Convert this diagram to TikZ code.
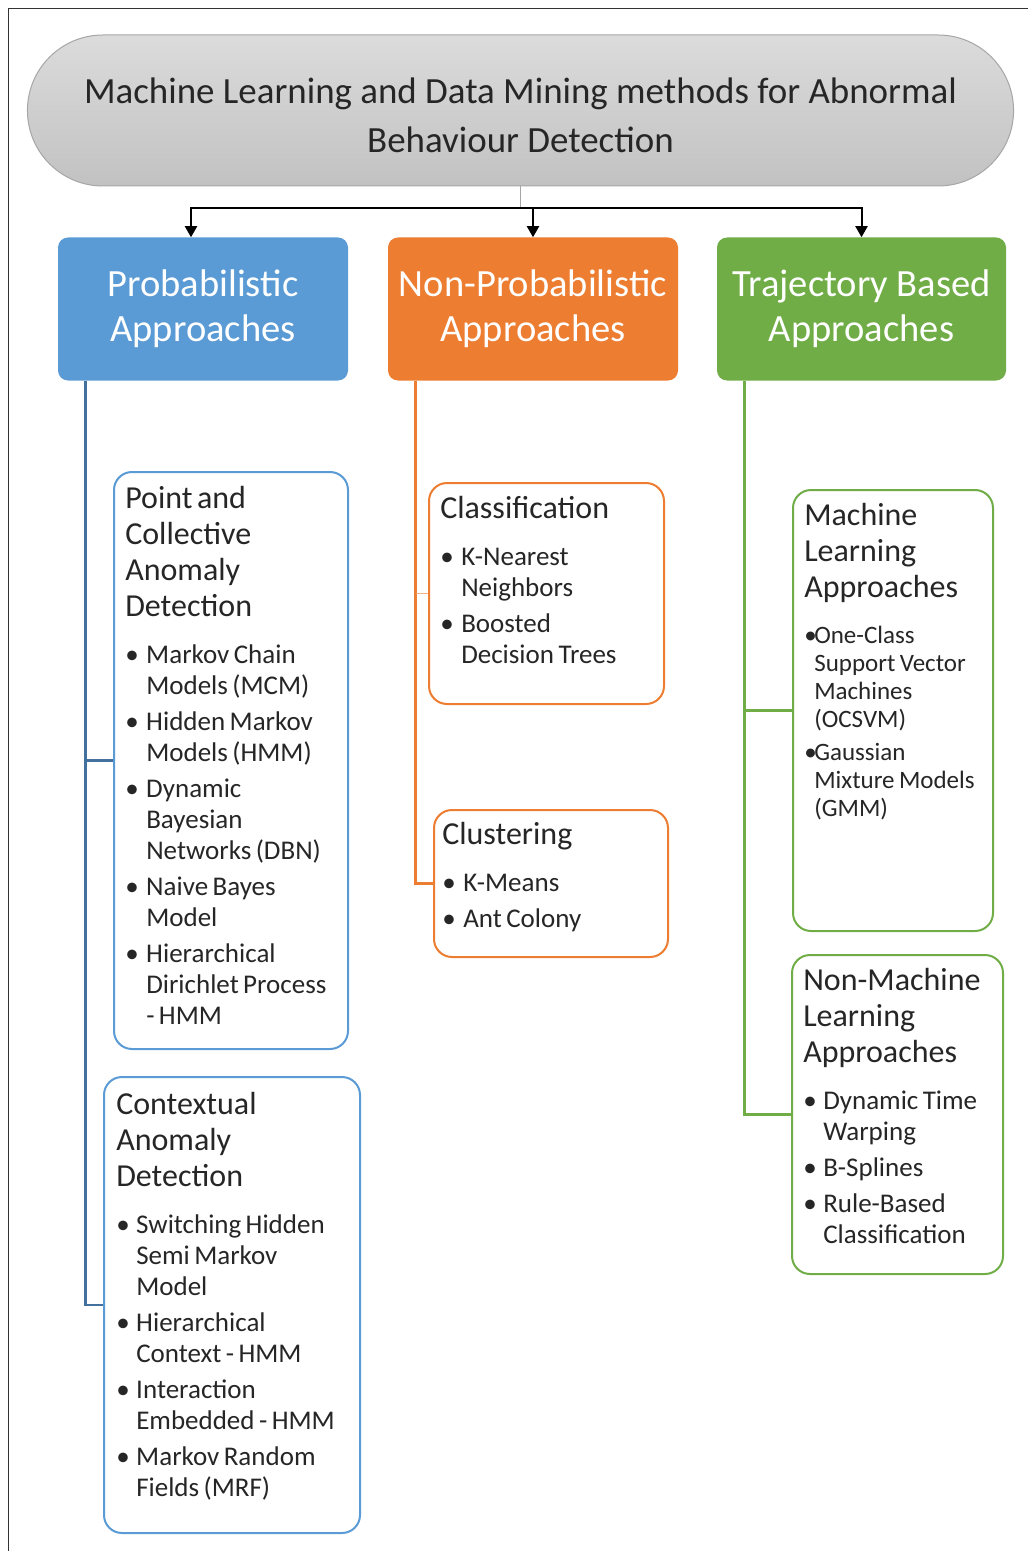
\documentclass[tikz,border=0pt]{standalone}
\usepackage{fontspec}
\setmainfont{Carlito}
\usetikzlibrary{arrows.meta,calc,positioning,shapes.misc}
\definecolor{ink}{RGB}{38,38,38}
\definecolor{probblue}{RGB}{91,155,213}
\definecolor{probline}{RGB}{65,113,156}
\definecolor{nonorange}{RGB}{237,125,49}
\definecolor{trajgreen}{RGB}{112,173,71}
\newdimen\px \px=0.75pt
\newcommand\hdfont{\fontsize{24}{27}\selectfont}
\newcommand\itfont{\fontsize{20.25}{23.25}\selectfont}
\newcommand\smfont{\fontsize{18.75}{21}\selectfont}
\newcommand\itm[2][15.75pt]{\par\hangindent=#1\hangafter=1\noindent\hbox to #1{\textbullet\hfil}#2}

\begin{document}
\begin{tikzpicture}[x=0.75pt,y=-0.75pt,
  title/.style={rounded rectangle,draw=gray!70,line width=1\px,top color=gray!28,bottom color=gray!48,
    minimum width=995\px,minimum height=151\px,align=center,text=ink,font=\fontsize{27.7}{36.75}\selectfont},
  hdr/.style={rounded corners=10\px,minimum width=290\px,minimum height=143\px,inner sep=2\px,
    text=white,align=center,font=\fontsize{28.9}{33.75}\selectfont},
  sub/.style={draw=#1,line width=2\px,rounded corners=18\px,fill=white},
  body/.style={anchor=base west,inner sep=0pt,text=ink,execute at begin node=\setlength\parindent{0pt}},
  bus/.style={line width=2\px,-{Triangle[width=9pt,length=8.25pt]}},
  trunk/.style={line width=2.5\px}]
  \useasboundingbox (0,0) rectangle (1028,1551);
  \draw[line width=1\px,black!80] (8,1551) -- (8,9) -- (1028,9);

  \node[title] (ttl) at (520.5,110.5) {\rule{0pt}{26pt}Machine Learning and Data Mining methods for Abnormal\\Behaviour Detection};

  \node[hdr,fill=probblue] (pa) at (203,309) {Probabilistic\\Approaches};
  \node[hdr,fill=nonorange] (na) at (533,309) {Non-Probabilistic\\Approaches};
  \node[hdr,fill=trajgreen,minimum width=289\px] (ta) at (861.5,309) {Trajectory Based\\Approaches};

  \draw[gray!70,line width=1\px] (ttl.south) -- ++(0,22) coordinate (hub);
  \draw[bus] (hub) -| ($(pa.north)+(-12,0)$);
  \draw[bus] (hub) -| (na.north);
  \draw[bus] (hub) -| (ta.north);

  \node[sub=probblue,minimum width=234\px,minimum height=577\px] (pc) at (231,760.5) {};
  \node[sub=probblue,minimum width=256\px,minimum height=456\px] (cx) at (232,1305) {};
  \node[sub=nonorange,minimum width=235\px,minimum height=221\px] (cl) at (546.5,593.5) {};
  \node[sub=nonorange,minimum width=234\px,minimum height=147\px] (cu) at (551,883.5) {};
  \node[sub=trajgreen,minimum width=200\px,minimum height=441\px] (ml) at (893,710.5) {};
  \node[sub=trajgreen,minimum width=211\px,minimum height=319\px] (nm) at (897.5,1114.5) {};

  \coordinate (pt) at ($(pa.south west)+(28,0)$);
  \coordinate (nt) at ($(na.south west)+(28,0)$);
  \coordinate (tt) at ($(ta.south west)+(28,0)$);
  \draw[trunk,probline] (pt) |- (cx.west);
  \draw[trunk,probline] (pt |- pc.west) -- (pc.west);
  \draw[trunk,nonorange] (nt) |- (cu.west);
  \draw[line width=1\px,nonorange!60] (nt |- cl.west) -- (cl.west);
  \draw[trunk,trajgreen,line width=3\px] (tt) |- (nm.west);
  \draw[trajgreen,line width=3\px] (tt |- ml.west) -- (ml.west);

  \node[body,text width=222\px] (pctxt) at ($(pc.north west)+(12,37)$) {%
    {\hdfont Point and\newline Collective\newline Anomaly\newline Detection\par}
    \itfont\parskip=3.75pt\vspace{8.25pt}
    \itm{Markov Chain\newline Models (MCM)}
    \itm{Hidden Markov\newline Models (HMM)}
    \itm{Dynamic\newline Bayesian\newline Networks (DBN)}
    \itm{Naive Bayes\newline Model}
    \itm{Hierarchical\newline Dirichlet Process\newline - HMM}\par};
  \node[body,text width=240\px] (cxtxt) at ($(cx.north west)+(13,38)$) {%
    {\hdfont Contextual\newline Anomaly\newline Detection\par}
    \itfont\parskip=3.75pt\vspace{8.25pt}
    \itm[15pt]{Switching Hidden\newline Semi Markov\newline Model}
    \itm[15pt]{Hierarchical\newline Context - HMM}
    \itm[15pt]{Interaction\newline Embedded - HMM}
    \itm[15pt]{Markov Random\newline Fields (MRF)}\par};
  \node[body,text width=220\px] (cltxt) at ($(cl.north west)+(12,36)$) {%
    {\hdfont Classification\par}
    \itfont\parskip=3.75pt\vspace{8.25pt}
    \itm{K-Nearest\newline Neighbors}
    \itm{Boosted\newline Decision Trees}\par};
  \node[body,text width=222\px] (cutxt) at ($(cu.north west)+(9,35)$) {%
    {\hdfont Clustering\par}
    \itfont\parskip=3.75pt\vspace{8.25pt}
    \itm{K-Means}
    \itm{Ant Colony}\par};
  \node[body,text width=186\px] (mltxt) at ($(ml.north west)+(12,36)$) {%
    {\hdfont Machine\newline Learning\newline Approaches\par}
    \smfont\parskip=3.75pt\vspace{9.75pt}
    \itm[7.5pt]{One-Class\newline Support Vector\newline Machines\newline (OCSVM)}
    \itm[7.5pt]{Gaussian\newline Mixture Models\newline (GMM)}\par};
  \node[body,text width=198\px] (nmtxt) at ($(nm.north west)+(12,36)$) {%
    {\hdfont Non-Machine\newline Learning\newline Approaches\par}
    \itfont\parskip=3.75pt\vspace{8.25pt}
    \itm[15pt]{Dynamic Time\newline Warping}
    \itm[15pt]{B-Splines}
    \itm[15pt]{Rule-Based\newline Classification}\par};
\end{tikzpicture}
\end{document}
